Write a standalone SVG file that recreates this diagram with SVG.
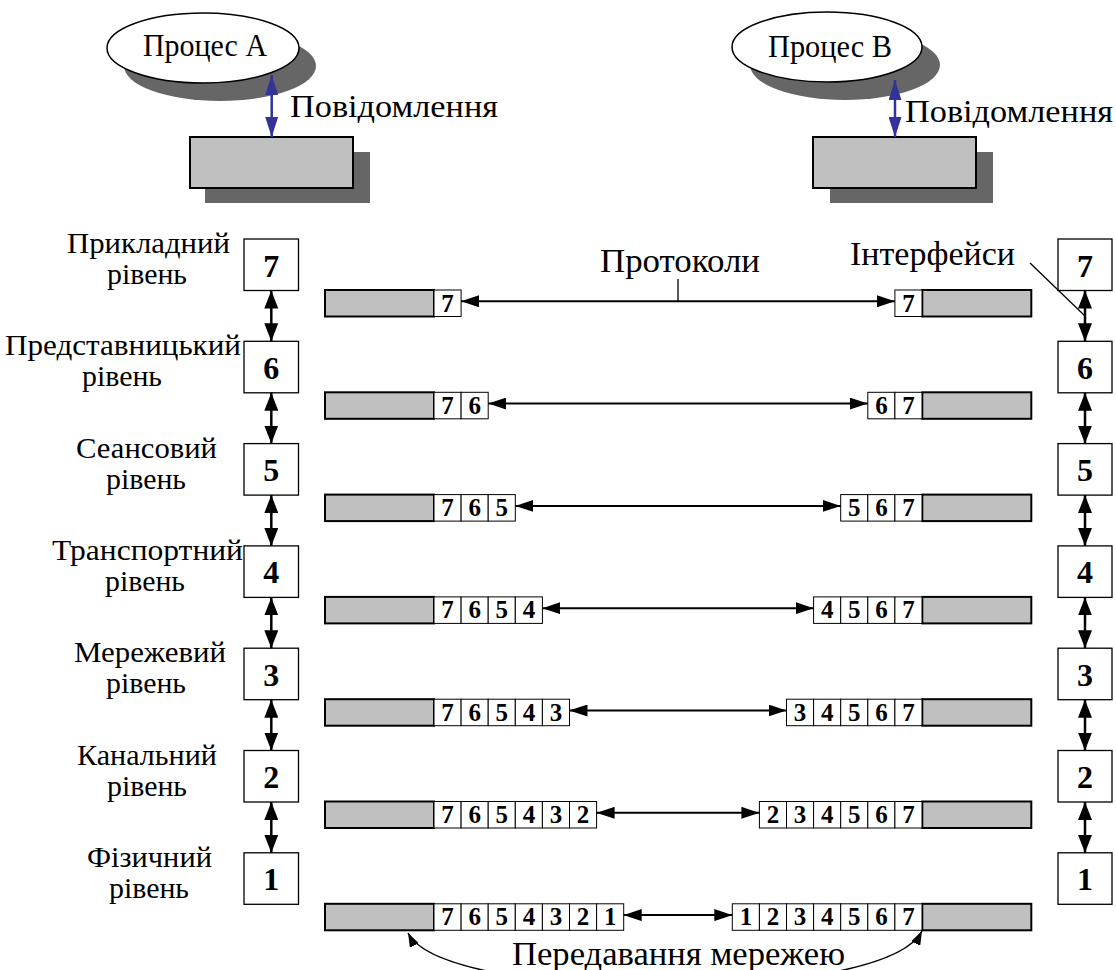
<svg xmlns="http://www.w3.org/2000/svg" width="1116" height="970" viewBox="0 0 1116 970">
  <defs>
    <style>
      text { font-family: "Liberation Serif", "Times New Roman", serif; fill: #000; }
      .lbl { font-size: 30px; }
      .big { font-size: 34px; }
      .top { font-size: 31px; }
      .num { font-size: 32px; font-weight: bold; text-anchor: middle; }
      .cd { font-size: 25px; font-weight: bold; text-anchor: middle; }
      .gray { fill: #c0c0c0; stroke: #000; stroke-width: 2; }
      .cell { fill: #fff; stroke: #000; stroke-width: 1; }
      .box { fill: #fff; stroke: #000; stroke-width: 1.3; }
      .shadow { fill: #666666; stroke: none; }
      .harr { stroke: #000; stroke-width: 2; fill: none; marker-start: url(#ah); marker-end: url(#ah); }
      .varr { stroke: #000; stroke-width: 2.5; fill: none; marker-start: url(#av); marker-end: url(#av); }
      .barr { stroke: #333399; stroke-width: 2.5; fill: none; marker-start: url(#ab); marker-end: url(#ab); }
      .thin { stroke: #000; stroke-width: 1.3; fill: none; }
      .curve { stroke: #000; stroke-width: 1.5; fill: none; marker-start: url(#ac); marker-end: url(#ac); }
    </style>
    <marker id="ah" markerUnits="userSpaceOnUse" markerWidth="18" markerHeight="12" refX="18" refY="6" orient="auto-start-reverse">
      <path d="M0,0 L18,6 L0,12 z" fill="#000"/>
    </marker>
    <marker id="av" markerUnits="userSpaceOnUse" markerWidth="18" markerHeight="14" refX="18" refY="7" orient="auto-start-reverse">
      <path d="M0,0 L18,7 L0,14 z" fill="#000"/>
    </marker>
    <marker id="ab" markerUnits="userSpaceOnUse" markerWidth="20" markerHeight="13" refX="20" refY="6.5" orient="auto-start-reverse">
      <path d="M0,0 L20,6.5 L0,13 z" fill="#333399"/>
    </marker>
    <marker id="ac" markerUnits="userSpaceOnUse" markerWidth="14" markerHeight="10" refX="14" refY="5" orient="auto-start-reverse">
      <path d="M0,0 L14,5 L0,10 z" fill="#000"/>
    </marker>
  </defs>
  <rect width="1116" height="970" fill="#fff"/>

  <!-- Process A -->
  <g id="process-a">
    <ellipse class="shadow" cx="220" cy="66" rx="96" ry="35"/>
    <ellipse cx="203" cy="48" rx="96" ry="35" fill="#fff" stroke="#000" stroke-width="1.5"/>
    <text class="top" x="143" y="56" textLength="124" lengthAdjust="spacingAndGlyphs">Процес А</text>
  </g>
  <g id="buffer-a">
    <rect class="shadow" x="205" y="152" width="165" height="51"/>
    <rect class="gray" x="190" y="137" width="163" height="51"/>
  </g>
  <!-- Process B -->
  <g id="process-b">
    <ellipse class="shadow" cx="845" cy="65" rx="95" ry="35"/>
    <ellipse cx="827" cy="47" rx="95" ry="35" fill="#fff" stroke="#000" stroke-width="1.5"/>
    <text class="top" x="768" y="57" textLength="124" lengthAdjust="spacingAndGlyphs">Процес В</text>
  </g>
  <g id="buffer-b">
    <rect class="shadow" x="830" y="152" width="163" height="51"/>
    <rect class="gray" x="813" y="137" width="163" height="51"/>
  </g>

  <!-- Left stack of layers -->
  <g id="left-layers">
    <g id="L7"><rect class="box" x="244" y="239" width="54.5" height="51.5"/><text class="num" x="271.3" y="276.5">7</text>
      <text class="lbl" x="67" y="253" textLength="163" lengthAdjust="spacingAndGlyphs">Прикладний</text>
      <text class="lbl" x="107" y="284" textLength="80" lengthAdjust="spacingAndGlyphs">рівень</text></g>
    <g id="L6"><rect class="box" x="244" y="341.3" width="54.5" height="51.5"/><text class="num" x="271.3" y="378.8">6</text>
      <text class="lbl" x="5" y="355.3" textLength="236" lengthAdjust="spacingAndGlyphs">Представницький</text>
      <text class="lbl" x="82" y="386.3" textLength="80" lengthAdjust="spacingAndGlyphs">рівень</text></g>
    <g id="L5"><rect class="box" x="244" y="443.6" width="54.5" height="51.5"/><text class="num" x="271.3" y="481.1">5</text>
      <text class="lbl" x="76" y="457.6" textLength="141" lengthAdjust="spacingAndGlyphs">Сеансовий</text>
      <text class="lbl" x="106" y="488.6" textLength="80" lengthAdjust="spacingAndGlyphs">рівень</text></g>
    <g id="L4"><rect class="box" x="244" y="545.9" width="54.5" height="51.5"/><text class="num" x="271.3" y="583.4">4</text>
      <text class="lbl" x="52" y="559.9" textLength="191" lengthAdjust="spacingAndGlyphs">Транспортний</text>
      <text class="lbl" x="105" y="590.9" textLength="80" lengthAdjust="spacingAndGlyphs">рівень</text></g>
    <g id="L3"><rect class="box" x="244" y="648.2" width="54.5" height="51.5"/><text class="num" x="271.3" y="685.7">3</text>
      <text class="lbl" x="74" y="662.2" textLength="152" lengthAdjust="spacingAndGlyphs">Мережевий</text>
      <text class="lbl" x="106" y="693.2" textLength="80" lengthAdjust="spacingAndGlyphs">рівень</text></g>
    <g id="L2"><rect class="box" x="244" y="750.5" width="54.5" height="51.5"/><text class="num" x="271.3" y="788">2</text>
      <text class="lbl" x="77" y="764.5" textLength="140" lengthAdjust="spacingAndGlyphs">Канальний</text>
      <text class="lbl" x="107" y="795.5" textLength="80" lengthAdjust="spacingAndGlyphs">рівень</text></g>
    <g id="L1"><rect class="box" x="244" y="852.8" width="54.5" height="51.5"/><text class="num" x="271.3" y="890.3">1</text>
      <text class="lbl" x="87" y="866.8" textLength="125" lengthAdjust="spacingAndGlyphs">Фізичний</text>
      <text class="lbl" x="109" y="897.8" textLength="80" lengthAdjust="spacingAndGlyphs">рівень</text></g>
  </g>

  <!-- Right stack of layers -->
  <g id="right-layers">
    <g id="R7"><rect class="box" x="1058" y="239" width="54" height="51.5"/><text class="num" x="1085" y="276.5">7</text></g>
    <g id="R6"><rect class="box" x="1058" y="341.3" width="54" height="51.5"/><text class="num" x="1085" y="378.8">6</text></g>
    <g id="R5"><rect class="box" x="1058" y="443.6" width="54" height="51.5"/><text class="num" x="1085" y="481.1">5</text></g>
    <g id="R4"><rect class="box" x="1058" y="545.9" width="54" height="51.5"/><text class="num" x="1085" y="583.4">4</text></g>
    <g id="R3"><rect class="box" x="1058" y="648.2" width="54" height="51.5"/><text class="num" x="1085" y="685.7">3</text></g>
    <g id="R2"><rect class="box" x="1058" y="750.5" width="54" height="51.5"/><text class="num" x="1085" y="788">2</text></g>
    <g id="R1"><rect class="box" x="1058" y="852.8" width="54" height="51.5"/><text class="num" x="1085" y="890.3">1</text></g>
  </g>

  <!-- Frames exchanged at each level: sender side -->
  <g id="frames-left">
    <g id="FL7"><rect class="gray" x="325" y="290" width="109" height="26.5"/>
      <rect class="cell" x="434" y="290" width="27.1" height="26.5"/><text class="cd" x="447.6" y="311.5">7</text></g>
    <g id="FL6"><rect class="gray" x="325" y="392.3" width="109" height="26.5"/>
      <rect class="cell" x="434" y="392.3" width="27.1" height="26.5"/><text class="cd" x="447.6" y="413.8">7</text>
      <rect class="cell" x="461.1" y="392.3" width="27.1" height="26.5"/><text class="cd" x="474.7" y="413.8">6</text></g>
    <g id="FL5"><rect class="gray" x="325" y="494.6" width="109" height="26.5"/>
      <rect class="cell" x="434" y="494.6" width="27.1" height="26.5"/><text class="cd" x="447.6" y="516.1">7</text>
      <rect class="cell" x="461.1" y="494.6" width="27.1" height="26.5"/><text class="cd" x="474.7" y="516.1">6</text>
      <rect class="cell" x="488.2" y="494.6" width="27.1" height="26.5"/><text class="cd" x="501.8" y="516.1">5</text></g>
    <g id="FL4"><rect class="gray" x="325" y="596.9" width="109" height="26.5"/>
      <rect class="cell" x="434" y="596.9" width="27.1" height="26.5"/><text class="cd" x="447.6" y="618.4">7</text>
      <rect class="cell" x="461.1" y="596.9" width="27.1" height="26.5"/><text class="cd" x="474.7" y="618.4">6</text>
      <rect class="cell" x="488.2" y="596.9" width="27.1" height="26.5"/><text class="cd" x="501.8" y="618.4">5</text>
      <rect class="cell" x="515.3" y="596.9" width="27.1" height="26.5"/><text class="cd" x="528.9" y="618.4">4</text></g>
    <g id="FL3"><rect class="gray" x="325" y="699.2" width="109" height="26.5"/>
      <rect class="cell" x="434" y="699.2" width="27.1" height="26.5"/><text class="cd" x="447.6" y="720.7">7</text>
      <rect class="cell" x="461.1" y="699.2" width="27.1" height="26.5"/><text class="cd" x="474.7" y="720.7">6</text>
      <rect class="cell" x="488.2" y="699.2" width="27.1" height="26.5"/><text class="cd" x="501.8" y="720.7">5</text>
      <rect class="cell" x="515.3" y="699.2" width="27.1" height="26.5"/><text class="cd" x="528.9" y="720.7">4</text>
      <rect class="cell" x="542.4" y="699.2" width="27.1" height="26.5"/><text class="cd" x="556" y="720.7">3</text></g>
    <g id="FL2"><rect class="gray" x="325" y="801.5" width="109" height="26.5"/>
      <rect class="cell" x="434" y="801.5" width="27.1" height="26.5"/><text class="cd" x="447.6" y="823">7</text>
      <rect class="cell" x="461.1" y="801.5" width="27.1" height="26.5"/><text class="cd" x="474.7" y="823">6</text>
      <rect class="cell" x="488.2" y="801.5" width="27.1" height="26.5"/><text class="cd" x="501.8" y="823">5</text>
      <rect class="cell" x="515.3" y="801.5" width="27.1" height="26.5"/><text class="cd" x="528.9" y="823">4</text>
      <rect class="cell" x="542.4" y="801.5" width="27.1" height="26.5"/><text class="cd" x="556" y="823">3</text>
      <rect class="cell" x="569.5" y="801.5" width="27.1" height="26.5"/><text class="cd" x="583.1" y="823">2</text></g>
    <g id="FL1"><rect class="gray" x="325" y="903.8" width="109" height="26.5"/>
      <rect class="cell" x="434" y="903.8" width="27.1" height="26.5"/><text class="cd" x="447.6" y="925.3">7</text>
      <rect class="cell" x="461.1" y="903.8" width="27.1" height="26.5"/><text class="cd" x="474.7" y="925.3">6</text>
      <rect class="cell" x="488.2" y="903.8" width="27.1" height="26.5"/><text class="cd" x="501.8" y="925.3">5</text>
      <rect class="cell" x="515.3" y="903.8" width="27.1" height="26.5"/><text class="cd" x="528.9" y="925.3">4</text>
      <rect class="cell" x="542.4" y="903.8" width="27.1" height="26.5"/><text class="cd" x="556" y="925.3">3</text>
      <rect class="cell" x="569.5" y="903.8" width="27.1" height="26.5"/><text class="cd" x="583.1" y="925.3">2</text>
      <rect class="cell" x="596.6" y="903.8" width="27.1" height="26.5"/><text class="cd" x="610.2" y="925.3">1</text></g>
  </g>

  <!-- Frames exchanged at each level: receiver side -->
  <g id="frames-right">
    <g id="FR7"><rect class="gray" x="922.3" y="290" width="109" height="26.5"/>
      <rect class="cell" x="894.9" y="290" width="27.1" height="26.5"/><text class="cd" x="908.5" y="311.5">7</text></g>
    <g id="FR6"><rect class="gray" x="922.3" y="392.3" width="109" height="26.5"/>
      <rect class="cell" x="867.8" y="392.3" width="27.1" height="26.5"/><text class="cd" x="881.4" y="413.8">6</text>
      <rect class="cell" x="894.9" y="392.3" width="27.1" height="26.5"/><text class="cd" x="908.5" y="413.8">7</text></g>
    <g id="FR5"><rect class="gray" x="922.3" y="494.6" width="109" height="26.5"/>
      <rect class="cell" x="840.7" y="494.6" width="27.1" height="26.5"/><text class="cd" x="854.3" y="516.1">5</text>
      <rect class="cell" x="867.8" y="494.6" width="27.1" height="26.5"/><text class="cd" x="881.4" y="516.1">6</text>
      <rect class="cell" x="894.9" y="494.6" width="27.1" height="26.5"/><text class="cd" x="908.5" y="516.1">7</text></g>
    <g id="FR4"><rect class="gray" x="922.3" y="596.9" width="109" height="26.5"/>
      <rect class="cell" x="813.6" y="596.9" width="27.1" height="26.5"/><text class="cd" x="827.2" y="618.4">4</text>
      <rect class="cell" x="840.7" y="596.9" width="27.1" height="26.5"/><text class="cd" x="854.3" y="618.4">5</text>
      <rect class="cell" x="867.8" y="596.9" width="27.1" height="26.5"/><text class="cd" x="881.4" y="618.4">6</text>
      <rect class="cell" x="894.9" y="596.9" width="27.1" height="26.5"/><text class="cd" x="908.5" y="618.4">7</text></g>
    <g id="FR3"><rect class="gray" x="922.3" y="699.2" width="109" height="26.5"/>
      <rect class="cell" x="786.5" y="699.2" width="27.1" height="26.5"/><text class="cd" x="800.1" y="720.7">3</text>
      <rect class="cell" x="813.6" y="699.2" width="27.1" height="26.5"/><text class="cd" x="827.2" y="720.7">4</text>
      <rect class="cell" x="840.7" y="699.2" width="27.1" height="26.5"/><text class="cd" x="854.3" y="720.7">5</text>
      <rect class="cell" x="867.8" y="699.2" width="27.1" height="26.5"/><text class="cd" x="881.4" y="720.7">6</text>
      <rect class="cell" x="894.9" y="699.2" width="27.1" height="26.5"/><text class="cd" x="908.5" y="720.7">7</text></g>
    <g id="FR2"><rect class="gray" x="922.3" y="801.5" width="109" height="26.5"/>
      <rect class="cell" x="759.4" y="801.5" width="27.1" height="26.5"/><text class="cd" x="773" y="823">2</text>
      <rect class="cell" x="786.5" y="801.5" width="27.1" height="26.5"/><text class="cd" x="800.1" y="823">3</text>
      <rect class="cell" x="813.6" y="801.5" width="27.1" height="26.5"/><text class="cd" x="827.2" y="823">4</text>
      <rect class="cell" x="840.7" y="801.5" width="27.1" height="26.5"/><text class="cd" x="854.3" y="823">5</text>
      <rect class="cell" x="867.8" y="801.5" width="27.1" height="26.5"/><text class="cd" x="881.4" y="823">6</text>
      <rect class="cell" x="894.9" y="801.5" width="27.1" height="26.5"/><text class="cd" x="908.5" y="823">7</text></g>
    <g id="FR1"><rect class="gray" x="922.3" y="903.8" width="109" height="26.5"/>
      <rect class="cell" x="732.3" y="903.8" width="27.1" height="26.5"/><text class="cd" x="745.9" y="925.3">1</text>
      <rect class="cell" x="759.4" y="903.8" width="27.1" height="26.5"/><text class="cd" x="773" y="925.3">2</text>
      <rect class="cell" x="786.5" y="903.8" width="27.1" height="26.5"/><text class="cd" x="800.1" y="925.3">3</text>
      <rect class="cell" x="813.6" y="903.8" width="27.1" height="26.5"/><text class="cd" x="827.2" y="925.3">4</text>
      <rect class="cell" x="840.7" y="903.8" width="27.1" height="26.5"/><text class="cd" x="854.3" y="925.3">5</text>
      <rect class="cell" x="867.8" y="903.8" width="27.1" height="26.5"/><text class="cd" x="881.4" y="925.3">6</text>
      <rect class="cell" x="894.9" y="903.8" width="27.1" height="26.5"/><text class="cd" x="908.5" y="925.3">7</text></g>
  </g>

  <!-- Annotations -->
  <g id="labels">
    <text class="top" x="290" y="117" textLength="208" lengthAdjust="spacingAndGlyphs">Повідомлення</text>
    <text class="top" x="905" y="122" textLength="208" lengthAdjust="spacingAndGlyphs">Повідомлення</text>
    <text class="big" x="600" y="272" textLength="160" lengthAdjust="spacingAndGlyphs">Протоколи</text>
    <text class="big" x="850" y="265" textLength="165" lengthAdjust="spacingAndGlyphs">Інтерфейси</text>
    <text class="big" x="512" y="965" textLength="333" lengthAdjust="spacingAndGlyphs">Передавання мережею</text>
  </g>

  <!-- Connectors -->
  <g id="connectors">
    <!-- process to buffer -->
    <line class="barr" x1="271.7" y1="75" x2="271.7" y2="137"/>
    <line class="barr" x1="895" y1="80" x2="895" y2="137"/>
    <!-- interfaces between adjacent layers, left -->
    <line class="varr" x1="271.3" y1="290.5" x2="271.3" y2="341.3"/>
    <line class="varr" x1="271.3" y1="392.8" x2="271.3" y2="443.6"/>
    <line class="varr" x1="271.3" y1="495.1" x2="271.3" y2="545.9"/>
    <line class="varr" x1="271.3" y1="597.4" x2="271.3" y2="648.2"/>
    <line class="varr" x1="271.3" y1="699.7" x2="271.3" y2="750.5"/>
    <line class="varr" x1="271.3" y1="802" x2="271.3" y2="852.8"/>
    <!-- interfaces between adjacent layers, right -->
    <line class="varr" x1="1085" y1="290.5" x2="1085" y2="341.3"/>
    <line class="varr" x1="1085" y1="392.8" x2="1085" y2="443.6"/>
    <line class="varr" x1="1085" y1="495.1" x2="1085" y2="545.9"/>
    <line class="varr" x1="1085" y1="597.4" x2="1085" y2="648.2"/>
    <line class="varr" x1="1085" y1="699.7" x2="1085" y2="750.5"/>
    <line class="varr" x1="1085" y1="802" x2="1085" y2="852.8"/>
    <!-- peer protocols -->
    <line class="harr" x1="461.1" y1="301.3" x2="894.9" y2="301.3"/>
    <line class="harr" x1="488.2" y1="403.6" x2="867.8" y2="403.6"/>
    <line class="harr" x1="515.3" y1="505.9" x2="840.7" y2="505.9"/>
    <line class="harr" x1="542.4" y1="608.2" x2="813.6" y2="608.2"/>
    <line class="harr" x1="569.5" y1="710.5" x2="786.5" y2="710.5"/>
    <line class="harr" x1="596.6" y1="812.8" x2="759.4" y2="812.8"/>
    <line class="harr" x1="623.7" y1="915.1" x2="732.3" y2="915.1"/>
    <!-- leader lines -->
    <line class="thin" x1="678" y1="279" x2="678" y2="301"/>
    <line class="thin" x1="1030" y1="263" x2="1085" y2="316"/>
    <!-- network transfer -->
    <path class="curve" d="M408,933 C445,1005 885,1005 922,931"/>
  </g>
</svg>
